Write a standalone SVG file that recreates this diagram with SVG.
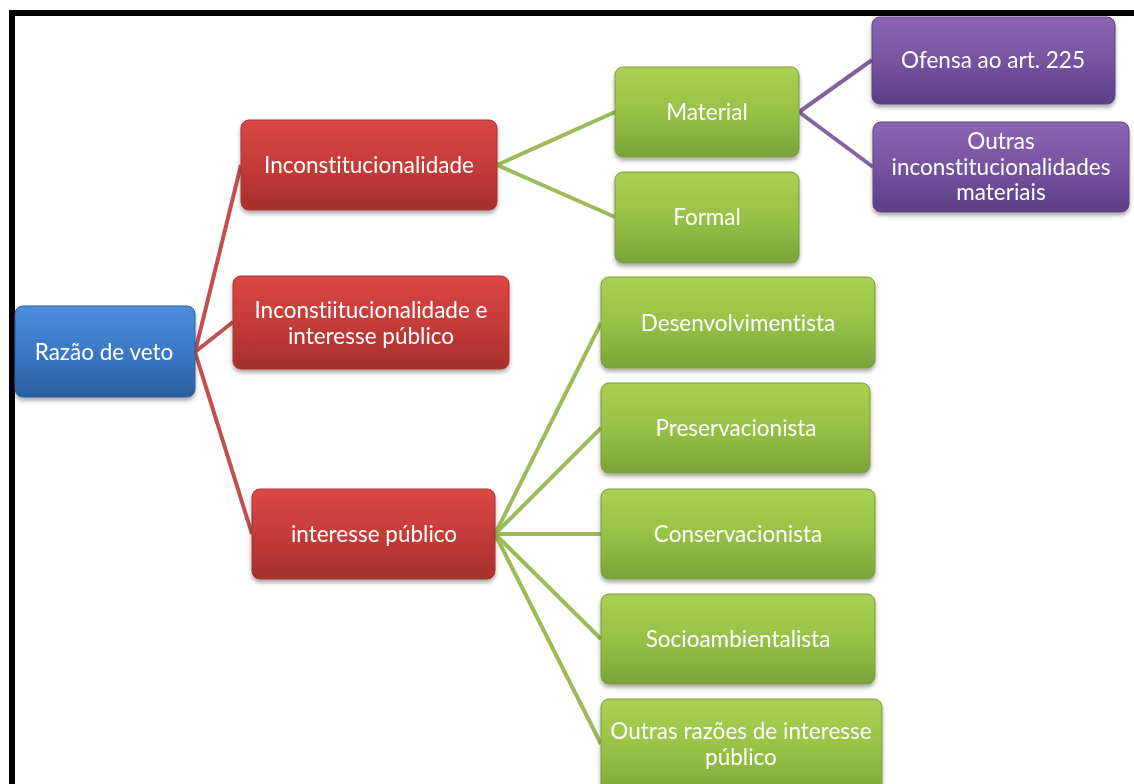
<svg xmlns="http://www.w3.org/2000/svg" width="1134" height="784" viewBox="0 0 1134 784">
<defs>
<linearGradient id="gRed" x1="0" y1="0" x2="0" y2="1"><stop offset="0" stop-color="#da4744"/><stop offset="0.5" stop-color="#c53c39"/><stop offset="1" stop-color="#a52f2d"/></linearGradient>
<linearGradient id="gGreen" x1="0" y1="0" x2="0" y2="1"><stop offset="0" stop-color="#a9d052"/><stop offset="0.5" stop-color="#98c146"/><stop offset="1" stop-color="#7aa33a"/></linearGradient>
<linearGradient id="gBlue" x1="0" y1="0" x2="0" y2="1"><stop offset="0" stop-color="#4b8fdc"/><stop offset="0.5" stop-color="#3a78c6"/><stop offset="1" stop-color="#2b5e9e"/></linearGradient>
<linearGradient id="gPurple" x1="0" y1="0" x2="0" y2="1"><stop offset="0" stop-color="#8c66b2"/><stop offset="0.5" stop-color="#7753a0"/><stop offset="1" stop-color="#5c3f84"/></linearGradient>
<filter id="sh" x="-10%" y="-10%" width="120%" height="130%"><feDropShadow dx="0" dy="3" stdDeviation="2" flood-color="#000" flood-opacity="0.35"/></filter>
</defs>
<style>
.n{filter:url(#sh);}
.red{fill:url(#gRed);stroke:#a83331;stroke-width:1}
.green{fill:url(#gGreen);stroke:#7b9e3e;stroke-width:1}
.blue{fill:url(#gBlue);stroke:#2f619f;stroke-width:1}
.purple{fill:url(#gPurple);stroke:#5e4385;stroke-width:1}
text{font-family:Lato,"Open Sans","Liberation Sans",sans-serif;font-size:22.5px;fill:#ffffff;text-anchor:middle;dominant-baseline:central;font-variant-ligatures:none}
.cr{stroke:#c0504d;stroke-width:4;fill:none}
.cg{stroke:#9bbb59;stroke-width:4;fill:none}
.cp{stroke:#8064a2;stroke-width:4;fill:none}
</style>
<rect x="0" y="0" width="1134" height="784" fill="#ffffff"/>
<rect x="12" y="13" width="1300" height="900" fill="none" stroke="#000000" stroke-width="6"/>
<g id="connectors">
<line class="cr" x1="195" y1="352" x2="241" y2="165"/>
<line class="cr" x1="195" y1="352" x2="233" y2="322"/>
<line class="cr" x1="195" y1="352" x2="252" y2="534"/>
<line class="cg" x1="497" y1="165" x2="615" y2="112"/>
<line class="cg" x1="497" y1="165" x2="615" y2="217"/>
<line class="cp" x1="799" y1="112" x2="872" y2="60"/>
<line class="cp" x1="799" y1="112" x2="873" y2="167"/>
<line class="cg" x1="495" y1="534" x2="601" y2="323"/>
<line class="cg" x1="495" y1="534" x2="601" y2="428"/>
<line class="cg" x1="495" y1="534" x2="601" y2="534"/>
<line class="cg" x1="495" y1="534" x2="601" y2="639"/>
<line class="cg" x1="495" y1="534" x2="601" y2="744"/>
</g>
<g id="n-razao" class="n"><rect class="blue" x="15" y="306" width="180" height="91" rx="8"/><text x="104" y="351">Razão de veto</text></g>
<g id="n-inconst" class="n"><rect class="red" x="241" y="120" width="256" height="90" rx="8"/><text x="369" y="164">Inconstitucionalidade</text></g>
<g id="n-inconst-ip" class="n"><rect class="red" x="233" y="276" width="276" height="93" rx="8"/><text x="371" y="309">Inconstiitucionalidade e</text><text x="371" y="335">interesse público</text></g>
<g id="n-ip" class="n"><rect class="red" x="252" y="489" width="243" height="90" rx="8"/><text x="374" y="533">interesse público</text></g>
<g id="n-material" class="n"><rect class="green" x="615" y="67" width="184" height="90" rx="8"/><text x="707" y="111">Material</text></g>
<g id="n-formal" class="n"><rect class="green" x="615" y="172" width="184" height="91" rx="8"/><text x="707" y="216">Formal</text></g>
<g id="n-ofensa" class="n"><rect class="purple" x="872" y="17" width="243" height="87" rx="8"/><text x="993" y="59">Ofensa ao art. 225</text></g>
<g id="n-outras-inc" class="n"><rect class="purple" x="873" y="122" width="256" height="90" rx="8"/><text x="1001" y="140">Outras</text><text x="1001" y="166">inconstitucionalidades</text><text x="1001" y="191">materiais</text></g>
<g id="n-desenv" class="n"><rect class="green" x="601" y="277" width="274" height="91" rx="8"/><text x="738" y="322">Desenvolvimentista</text></g>
<g id="n-preserv" class="n"><rect class="green" x="601" y="383" width="269" height="90" rx="8"/><text x="736" y="427">Preservacionista</text></g>
<g id="n-conserv" class="n"><rect class="green" x="601" y="489" width="274" height="90" rx="8"/><text x="738" y="533">Conservacionista</text></g>
<g id="n-socio" class="n"><rect class="green" x="601" y="594" width="274" height="90" rx="8"/><text x="738" y="638">Socioambientalista</text></g>
<g id="n-outras-ip" class="n"><rect class="green" x="601" y="699" width="281" height="100" rx="8"/><text x="741" y="730">Outras razões de interesse</text><text x="741" y="756">público</text></g>
</svg>
